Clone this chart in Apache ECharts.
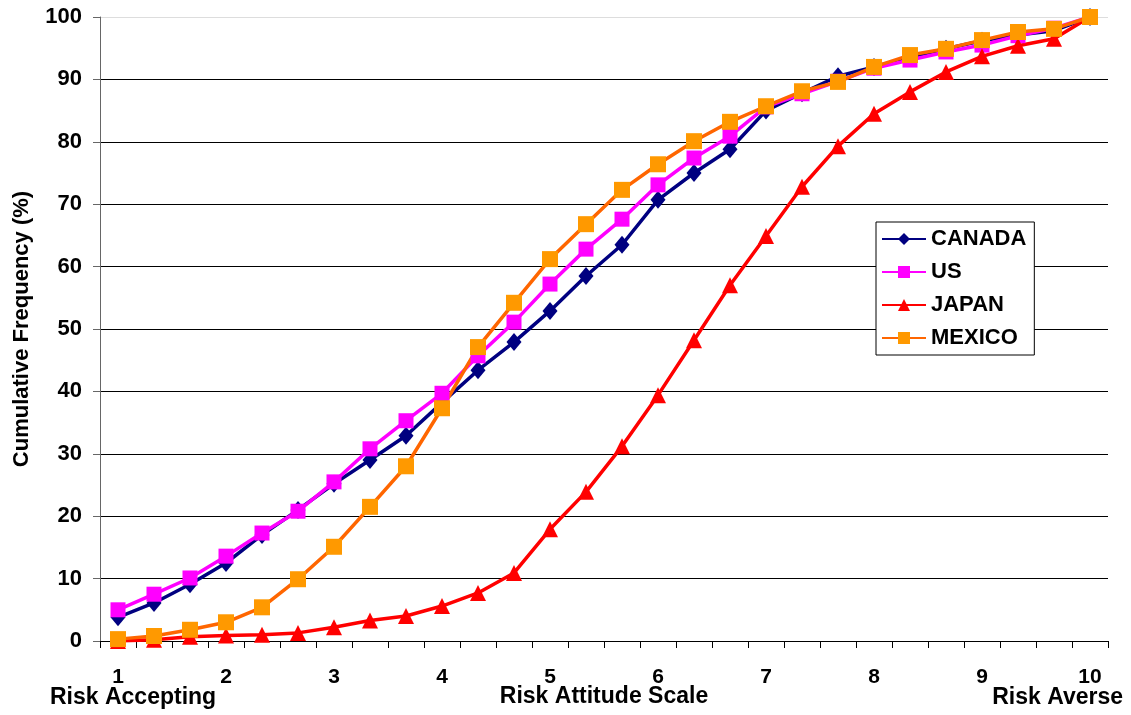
<!DOCTYPE html>
<html>
<head>
<meta charset="utf-8">
<script src="https://cdn.jsdelivr.net/npm/echarts@6/dist/echarts.min.js"></script>
<style>
html,body{margin:0;padding:0;background:#fff;}
#c{width:1131px;height:715px;}
</style>
</head>
<body>
<div id="c"></div>
<script>
const categories = ['1','1.33','1.67','2','2.33','2.67','3','3.33','3.67','4','4.33','4.67','5','5.33','5.67','6','6.33','6.67','7','7.33','7.67','8','8.33','8.67','9','9.33','9.67','10'];
const canada = [3.8,6.1,9.1,12.5,17,21,25.2,29,32.9,38.2,43.4,47.9,52.9,58.5,63.5,70.7,75,78.8,85,87.8,90.5,92,93.6,94.9,96.2,97.1,97.8,100];
const us = [5.0,7.5,10.1,13.6,17.3,20.8,25.5,30.8,35.3,39.7,45.7,51.1,57.2,62.8,67.6,73.1,77.4,80.9,85.6,87.7,89.7,91.8,93.1,94.4,95.5,97.0,98.2,100];
const japan = [0,0.2,0.7,0.9,1.0,1.3,2.2,3.3,4.0,5.6,7.7,10.9,17.9,23.9,31.2,39.4,48.2,57,64.9,72.8,79.3,84.5,88,91.2,93.7,95.4,96.5,100];
const mexico = [0.3,0.8,1.8,3.0,5.4,9.9,15.1,21.5,28,37.3,47.1,54.2,61.2,66.8,72.3,76.4,80.1,83.2,85.7,88.1,89.6,92,93.9,94.9,96.3,97.6,98.1,100];
const yTicks = {min:0, max:100, interval:10};

const FONT = '"Liberation Sans", Arial, sans-serif';
const chart = echarts.init(document.getElementById('c'), null, {renderer:'canvas'});
function mk(name, data, symbol, size, lineColor, markColor){
  return {name, type:'line', data, symbol, symbolSize:size, showAllSymbol:true,
    lineStyle:{color:lineColor, width:3.5}, itemStyle:{color:markColor, borderWidth:0},
    emphasis:{disabled:true}, animation:false};
}
chart.setOption({
  animation:false,
  grid:{left:100, right:23, top:17, bottom:74, containLabel:false, outerBoundsMode:'none'},
  legend:{
    orient:'vertical', left:876, top:222,
    backgroundColor:'#fff', borderColor:'#000', borderWidth:1,
    padding:[6,8,6,5], itemGap:11, itemWidth:44, itemHeight:15,
    textStyle:{fontFamily:FONT, fontWeight:'bold', fontSize:22, color:'#000'},
    data:['CANADA','US','JAPAN','MEXICO']
  },
  xAxis:{
    type:'category', data:categories, boundaryGap:true,
    axisLine:{lineStyle:{color:'#000', width:1}},
    axisTick:{show:true, interval:0, length:7, lineStyle:{color:'#000'}},
    axisLabel:{interval:2, margin:26, fontFamily:FONT, fontWeight:'bold', fontSize:21, color:'#000',
      formatter:v=>String(Math.round(parseFloat(v)))},
    name:'Risk Attitude Scale', nameLocation:'middle', nameGap:44, nameMoveOverlap:false,
    nameTextStyle:{fontFamily:FONT, fontWeight:'bold', fontSize:23, color:'#000'},
    splitLine:{show:false}
  },
  yAxis:{
    type:'value', min:yTicks.min, max:yTicks.max, interval:yTicks.interval,
    axisLine:{show:true, lineStyle:{color:'#666', width:1}},
    axisTick:{show:true, length:7, lineStyle:{color:'#666'}},
    axisLabel:{margin:18, fontFamily:FONT, fontWeight:'bold', fontSize:22, color:'#000'},
    splitLine:{show:true, lineStyle:{color:['#000','#000','#000','#000','#000','#000','#000','#000','#000','#000','#ddd'], width:1}},
    name:'Cumulative Frequency (%)', nameLocation:'middle', nameGap:67, nameRotate:90, nameMoveOverlap:false,
    nameTextStyle:{fontFamily:FONT, fontWeight:'bold', fontSize:22, color:'#000'}
  },
  graphic:[
    {type:'text', left:50, top:686, style:{text:'Risk Accepting', font:'bold 23px '+FONT, fill:'#000'}},
    {type:'text', right:8, top:686, style:{text:'Risk Averse', font:'bold 23px '+FONT, fill:'#000'}}
  ],
  series:[
    mk('CANADA', canada, 'diamond', [15,18], '#000080', '#000080'),
    mk('US', us, 'rect', 15, '#FF00FF', '#FF00FF'),
    mk('JAPAN', japan, 'triangle', 16, '#FF0000', '#FF0000'),
    mk('MEXICO', mexico, 'rect', 16, '#FF6600', '#FF9900')
  ]
});
</script>
</body>
</html>
